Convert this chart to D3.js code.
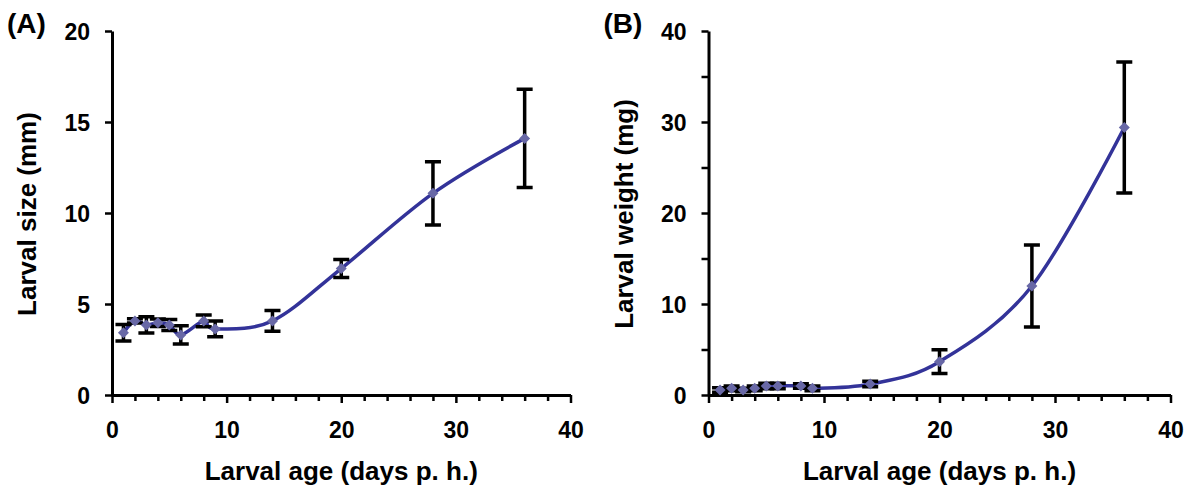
<!DOCTYPE html>
<html>
<head>
<meta charset="utf-8">
<style>
  body { margin: 0; background: #fff; }
  text { font-family: "Liberation Sans", Arial, sans-serif; font-weight: bold; fill: #000; }
</style>
</head>
<body>
<svg width="1197" height="497"></svg>
<script src="https://d3js.org/d3.v7.min.js"></script>
<script>
// larval age (days post hatch)
var ages = [1, 2, 3, 4, 5, 6, 8, 9, 14, 20, 28, 36];
// panel A: larval size (mm), mean and error
var sizeMean = [3.42, 4.07, 3.85, 3.97, 3.85, 3.3, 4.07, 3.63, 4.07, 6.95, 11.08, 14.1];
var sizeErr  = [0.45, 0.12, 0.45, 0.2, 0.3, 0.5, 0.32, 0.43, 0.57, 0.5, 1.74, 2.7];
// panel B: larval weight (mg), mean and error
var weightMean = [0.55, 0.73, 0.55, 0.73, 0.99, 1.0, 1.0, 0.73, 1.2, 3.66, 11.98, 29.4];
var weightErr  = [0.25, 0.25, 0.2, 0.25, 0.3, 0.3, 0.25, 0.25, 0.3, 1.3, 4.5, 7.2];

var xTicks = d3.range(0, 41, 2);
var sizeTicks = [0, 5, 10, 15, 20];
var weightTicks = [0, 5, 10, 15, 20, 25, 30, 35, 40];

var svg = d3.select("svg");

//draws one panel
function drawPanel(opt) {
    var x = d3.scaleLinear().domain([0, 40]).range([opt.left, opt.right]);
    var y = d3.scaleLinear().domain([0, opt.ymax]).range([395, 31]);
    var g = svg.append("g");

    //x axis
    var xa = g.append("g")
        .attr("transform", "translate(0," + y(0) + ")")
        .call(d3.axisBottom(x).tickValues(xTicks).tickSize(5).tickSizeOuter(0)
            .tickFormat(function(d) { return d % 10 === 0 ? d : ""; }));
    xa.selectAll(".tick line")
        .attr("stroke-width", 2.5)
        .attr("y2", function(d) { return d % 10 === 0 ? 8 : 6; });
    xa.selectAll(".tick text")
        .attr("y", 43).attr("dy", 0)
        .style("font-size", "23px");

    //y axis
    var ya = g.append("g")
        .attr("transform", "translate(" + x(0) + ",0)")
        .call(d3.axisLeft(y).tickValues(opt.yTicks).tickSize(7).tickSizeOuter(0).tickPadding(15)
            .tickFormat(function(d) { return d % 10 === 0 || opt.ymax === 20 ? d : ""; }));
    ya.selectAll(".tick line").attr("stroke-width", 2.5);
    ya.selectAll(".tick text").style("font-size", "23px").attr("dy", "0.36em");

    g.selectAll(".domain").attr("stroke-width", 3);
    g.selectAll("text").attr("fill", "#000").attr("font-family", null);

    //smoothed line
    var pts = ages.map(function(a, i) { return [a, opt.mean[i], opt.err[i]]; });
    var line = d3.line()
        .x(function(d) { return x(d[0]); })
        .y(function(d) { return y(d[1]); })
        .curve(d3.curveCardinal.tension(0));
    g.append("path")
        .datum(pts)
        .attr("fill", "none")
        .attr("stroke", "#333399")
        .attr("stroke-width", 3.5)
        .attr("d", line);

    //error bars
    g.selectAll(".err")
        .data(pts)
        .enter().append("path")
        .attr("fill", "none")
        .attr("stroke", "#000")
        .attr("stroke-width", 3.5)
        .attr("d", function(d) {
            var cx = x(d[0]), t = y(d[1] + d[2]), b = y(d[1] - d[2]);
            return "M" + cx + "," + t + "V" + b +
                   "M" + (cx - 8) + "," + t + "H" + (cx + 8) +
                   "M" + (cx - 8) + "," + b + "H" + (cx + 8);
        });

    //diamond markers
    g.selectAll(".pt")
        .data(pts)
        .enter().append("path")
        .attr("fill", "#6868a6")
        .attr("d", function(d) {
            var cx = x(d[0]), cy = y(d[1]), r = 5.5;
            return "M" + cx + "," + (cy - r) + "L" + (cx + r) + "," + cy +
                   "L" + cx + "," + (cy + r) + "L" + (cx - r) + "," + cy + "Z";
        });

    //titles
    g.append("text")
        .attr("x", (opt.left + opt.right) / 2)
        .attr("y", 480)
        .attr("text-anchor", "middle")
        .style("font-size", "26px")
        .text("Larval age (days p. h.)");
    g.append("text")
        .attr("transform", "translate(" + (opt.left - 76) + ",214) rotate(-90)")
        .attr("text-anchor", "middle")
        .style("font-size", "26px")
        .text(opt.ytitle);
    g.append("text")
        .attr("x", opt.left - 105)
        .attr("y", 33)
        .style("font-size", "28px")
        .text(opt.tag);
}

drawPanel({left: 112, right: 570.5, ymax: 20, yTicks: sizeTicks,
           mean: sizeMean, err: sizeErr, ytitle: "Larval size (mm)", tag: "(A)"});
drawPanel({left: 708.5, right: 1170.5, ymax: 40, yTicks: weightTicks,
           mean: weightMean, err: weightErr, ytitle: "Larval weight (mg)", tag: "(B)"});
</script>
</body>
</html>
